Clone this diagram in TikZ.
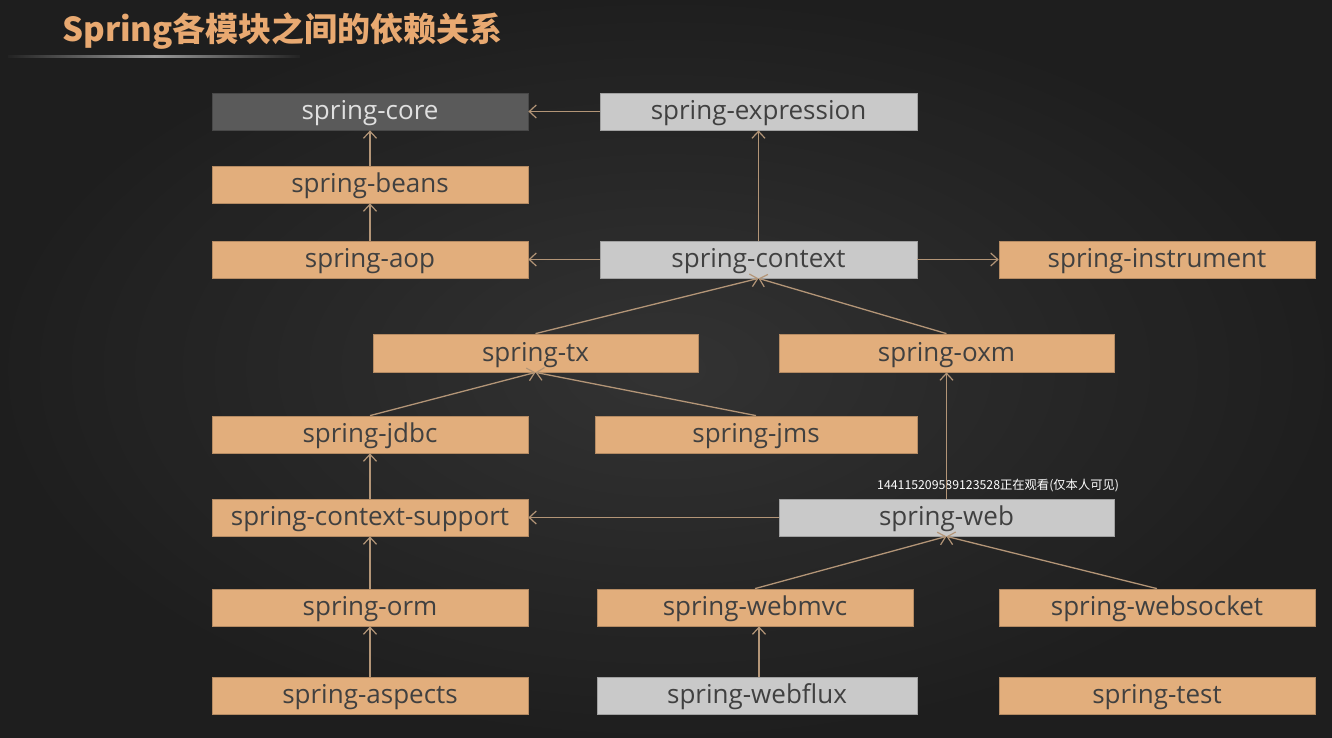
\documentclass[tikz,border=0pt]{standalone}
\usepackage{fontspec}
\setmainfont{Open Sans}
\newfontfamily\cjk{Noto Sans CJK SC}
\usetikzlibrary{arrows.meta,positioning,calc}
\definecolor{bgc}{HTML}{232323}
\definecolor{bgedge}{HTML}{1A1A1A}
\definecolor{orbox}{HTML}{E2AE7C}
\definecolor{gybox}{HTML}{C9C9C9}
\definecolor{dkbox}{HTML}{5A5A5A}
\definecolor{arrc}{HTML}{B39577}
\definecolor{titlec}{HTML}{E8A971}
\definecolor{txtdark}{HTML}{404040}
\tikzset{
  mod/.style={draw=#1!80!black, line width=0.8pt, fill=#1, minimum height=37pt, inner sep=0pt,
    font=\fontsize{26}{28}\selectfont, text=txtdark, anchor=center,
    text height=22pt, text depth=6pt},
  omod/.style={mod=orbox},
  gmod/.style={mod=gybox},
  dep/.style={draw=arrc, line width=1.3pt, -{Straight Barb[length=7pt,width=13pt,line width=1.2pt]}},
}
\begin{document}
\begin{tikzpicture}[x=1pt,y=-1pt]
\useasboundingbox (0,0) rectangle (1332,738);
\shade[inner color=bgc!85!white, outer color=bgedge] (0,0) rectangle (1332,738);
\fill[bgc, opacity=0.5] (0,0) rectangle (1332,738);
% title
\node[anchor=west, text=titlec, font=\cjk\bfseries\fontsize{33}{36}\selectfont, inner sep=0pt] (title) at (62,31.5) {Spring各模块之间的依赖关系};
\shade[left color=bgc, right color=bgc, middle color=gray!80] (8,56) rectangle (300,58);
% modules
\node[mod=dkbox, minimum width=316pt, text=white!88!black] (core) at (370,111.5) {spring-core};
\node[gmod, minimum width=317pt] (expr) at (758.5,111.5) {spring-expression};
\node[omod, minimum width=316pt] (beans) at (370,184.5) {spring-beans};
\node[omod, minimum width=316pt] (aop) at (370,259.5) {spring-aop};
\node[gmod, minimum width=317pt] (ctx) at (758.5,259.5) {spring-context};
\node[omod, minimum width=316pt] (instr) at (1157,259.5) {spring-instrument};
\node[omod, minimum width=325pt, minimum height=38pt] (tx) at (535.5,353) {spring-tx};
\node[omod, minimum width=335pt, minimum height=38pt] (oxm) at (946.5,353) {spring-oxm};
\node[omod, minimum width=316pt] (jdbc) at (370,434.5) {spring-jdbc};
\node[omod, minimum width=322pt] (jms) at (756,434.5) {spring-jms};
\node[omod, minimum width=316pt] (csup) at (370,517.5) {spring-context-support};
\node[gmod, minimum width=335pt] (web) at (946.5,517.5) {spring-web};
\node[omod, minimum width=316pt] (orm) at (370,607.5) {spring-orm};
\node[omod, minimum width=316pt] (mvc) at (755,607.5) {spring-webmvc};
\node[omod, minimum width=316pt] (wsock) at (1157,607.5) {spring-websocket};
\node[omod, minimum width=316pt] (asp) at (370,695.5) {spring-aspects};
\node[gmod, minimum width=320pt] (flux) at (757,695.5) {spring-webflux};
\node[omod, minimum width=316pt] (test) at (1157,695.5) {spring-test};
% watermark
\node[anchor=west, inner sep=0pt, text=white, font=\cjk\fontsize{12.3}{14}\selectfont] (wm) at (877,485.5) {144115209589123528正在观看(仅本人可见)};
% dependencies
\draw[dep] (expr) -- (core);
\draw[dep] (beans) -- (core);
\draw[dep] (aop) -- (beans);
\draw[dep] (ctx) -- (expr);
\draw[dep] (ctx) -- (aop);
\draw[dep] (ctx) -- (instr);
\draw[dep] (tx.north) -- (ctx.south);
\draw[dep] (oxm.north) -- (ctx.south);
\draw[dep] (jdbc.north) -- (tx.south);
\draw[dep] (jms.north) -- (tx.south);
\draw[dep] (csup) -- (jdbc);
\draw[dep] (web) -- (csup);
\draw[dep] (web) -- (oxm);
\draw[dep] (orm) -- (csup);
\draw[dep] (asp) -- (orm);
\draw[dep] (mvc.north) -- (web.south);
\draw[dep] (wsock.north) -- (web.south);
\draw[dep] ([xshift=2pt]flux.north) -- ([xshift=2pt]flux.north |- mvc.south);
\end{tikzpicture}
\end{document}
